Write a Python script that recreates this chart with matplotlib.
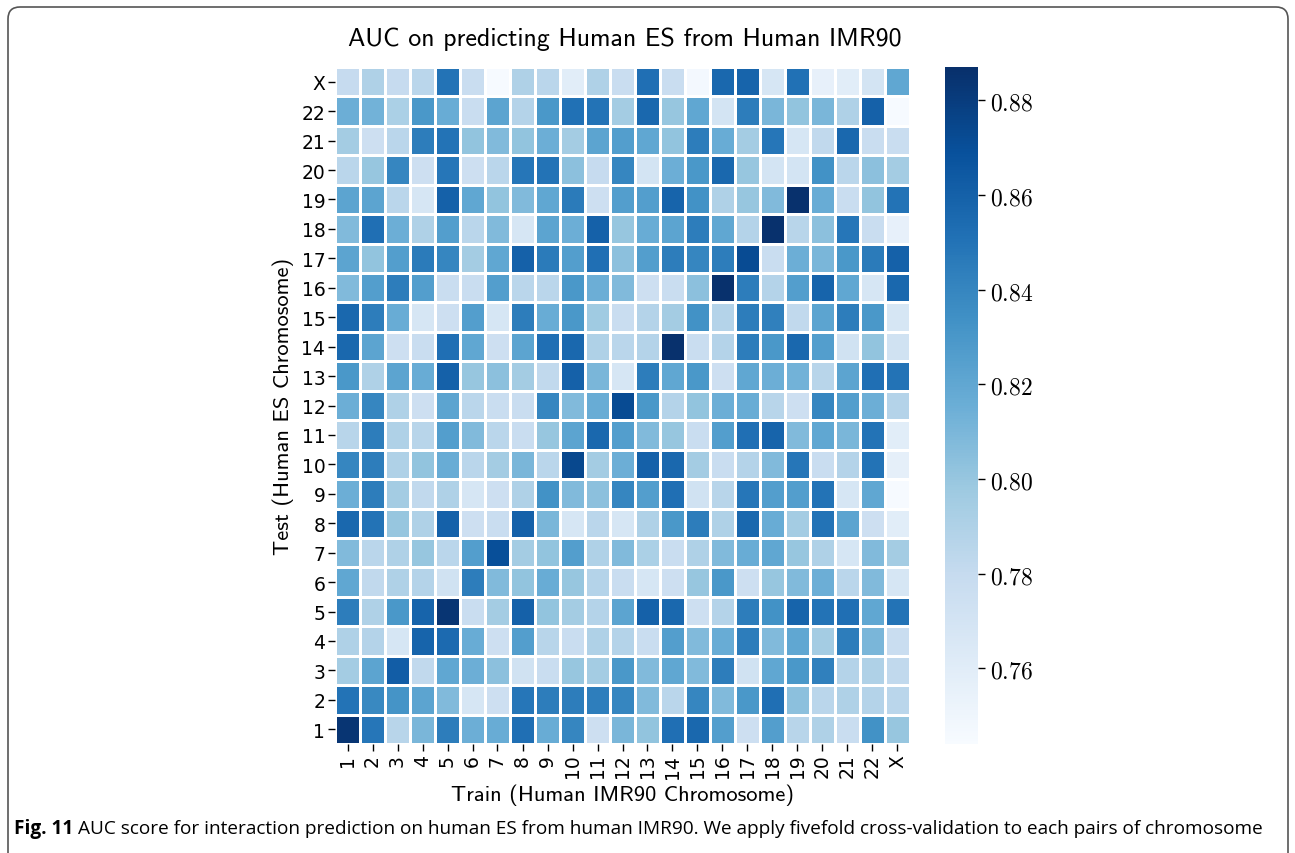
import numpy as np
import matplotlib
matplotlib.use('Agg')
import matplotlib.pyplot as plt
from matplotlib.patches import FancyBboxPatch

plt.rcParams['mathtext.fontset'] = 'cm'

# chromosome labels (train = columns, test = rows)
chroms = [str(i) for i in range(1, 23)] + ['X']

# AUC values, one list per test chromosome (1 ... X), columns = train 1 ... X
row1 = [0.884, 0.848, 0.786, 0.81, 0.845, 0.815, 0.817, 0.852, 0.817, 0.84, 0.775, 0.81, 0.802, 0.852, 0.856, 0.826, 0.775, 0.826, 0.786, 0.79, 0.778, 0.833, 0.80]
row2 = [0.85, 0.838, 0.832, 0.822, 0.808, 0.768, 0.775, 0.848, 0.845, 0.845, 0.844, 0.84, 0.808, 0.785, 0.84, 0.808, 0.83, 0.852, 0.804, 0.785, 0.79, 0.788, 0.785]
row3 = [0.795, 0.822, 0.862, 0.782, 0.82, 0.815, 0.804, 0.772, 0.778, 0.80, 0.795, 0.83, 0.808, 0.82, 0.808, 0.845, 0.772, 0.82, 0.83, 0.843, 0.788, 0.79, 0.782]
row4 = [0.79, 0.788, 0.768, 0.858, 0.855, 0.817, 0.775, 0.826, 0.786, 0.778, 0.79, 0.788, 0.778, 0.826, 0.808, 0.817, 0.845, 0.808, 0.82, 0.795, 0.845, 0.81, 0.778]
row5 = [0.845, 0.79, 0.83, 0.858, 0.884, 0.778, 0.795, 0.86, 0.802, 0.795, 0.788, 0.822, 0.86, 0.856, 0.775, 0.788, 0.845, 0.833, 0.858, 0.85, 0.852, 0.82, 0.85]
row6 = [0.82, 0.782, 0.79, 0.788, 0.772, 0.845, 0.808, 0.802, 0.817, 0.80, 0.788, 0.778, 0.768, 0.775, 0.80, 0.83, 0.775, 0.80, 0.808, 0.815, 0.785, 0.808, 0.768]
row7 = [0.808, 0.785, 0.79, 0.80, 0.785, 0.826, 0.87, 0.795, 0.802, 0.826, 0.79, 0.808, 0.792, 0.778, 0.79, 0.808, 0.817, 0.82, 0.80, 0.79, 0.768, 0.808, 0.795]
row8 = [0.856, 0.85, 0.80, 0.79, 0.86, 0.775, 0.778, 0.86, 0.81, 0.768, 0.785, 0.768, 0.79, 0.83, 0.845, 0.79, 0.856, 0.817, 0.795, 0.85, 0.822, 0.775, 0.76]
row9 = [0.815, 0.845, 0.795, 0.782, 0.79, 0.768, 0.775, 0.79, 0.833, 0.808, 0.804, 0.84, 0.826, 0.852, 0.772, 0.786, 0.848, 0.826, 0.826, 0.85, 0.768, 0.82, 0.745]
row10 = [0.84, 0.845, 0.79, 0.802, 0.817, 0.785, 0.795, 0.81, 0.785, 0.874, 0.795, 0.815, 0.86, 0.856, 0.795, 0.778, 0.788, 0.808, 0.848, 0.778, 0.788, 0.85, 0.757]
row11 = [0.786, 0.845, 0.79, 0.786, 0.826, 0.808, 0.785, 0.778, 0.80, 0.822, 0.856, 0.826, 0.808, 0.80, 0.778, 0.826, 0.852, 0.858, 0.808, 0.82, 0.81, 0.85, 0.76]
row12 = [0.815, 0.84, 0.79, 0.775, 0.822, 0.785, 0.778, 0.778, 0.84, 0.808, 0.817, 0.872, 0.83, 0.788, 0.802, 0.815, 0.817, 0.786, 0.775, 0.84, 0.826, 0.815, 0.788]
row13 = [0.83, 0.79, 0.822, 0.817, 0.86, 0.80, 0.804, 0.795, 0.782, 0.86, 0.81, 0.768, 0.845, 0.82, 0.83, 0.775, 0.82, 0.815, 0.813, 0.786, 0.822, 0.852, 0.85]
row14 = [0.856, 0.822, 0.775, 0.778, 0.852, 0.82, 0.775, 0.822, 0.852, 0.856, 0.79, 0.785, 0.788, 0.886, 0.778, 0.788, 0.845, 0.83, 0.856, 0.826, 0.772, 0.802, 0.772]
row15 = [0.856, 0.845, 0.817, 0.768, 0.775, 0.826, 0.768, 0.845, 0.817, 0.83, 0.797, 0.778, 0.788, 0.795, 0.833, 0.788, 0.845, 0.843, 0.782, 0.822, 0.845, 0.83, 0.768]
row16 = [0.808, 0.826, 0.845, 0.826, 0.778, 0.778, 0.826, 0.785, 0.785, 0.83, 0.815, 0.808, 0.775, 0.778, 0.804, 0.886, 0.845, 0.788, 0.826, 0.858, 0.82, 0.768, 0.856]
row17 = [0.822, 0.802, 0.826, 0.846, 0.84, 0.795, 0.82, 0.86, 0.846, 0.826, 0.852, 0.804, 0.826, 0.845, 0.84, 0.845, 0.872, 0.778, 0.815, 0.81, 0.83, 0.846, 0.86]
row18 = [0.808, 0.852, 0.815, 0.79, 0.826, 0.785, 0.808, 0.768, 0.822, 0.815, 0.86, 0.80, 0.817, 0.822, 0.845, 0.82, 0.788, 0.886, 0.786, 0.804, 0.848, 0.778, 0.756]
row19 = [0.822, 0.822, 0.785, 0.768, 0.86, 0.82, 0.802, 0.808, 0.82, 0.846, 0.775, 0.826, 0.826, 0.858, 0.833, 0.79, 0.80, 0.808, 0.886, 0.817, 0.778, 0.802, 0.85]
row20 = [0.785, 0.80, 0.84, 0.775, 0.848, 0.775, 0.785, 0.848, 0.85, 0.804, 0.78, 0.84, 0.77, 0.815, 0.83, 0.856, 0.80, 0.77, 0.77, 0.833, 0.785, 0.804, 0.795]
row21 = [0.795, 0.775, 0.785, 0.845, 0.85, 0.802, 0.808, 0.802, 0.815, 0.795, 0.822, 0.826, 0.82, 0.802, 0.845, 0.817, 0.795, 0.848, 0.768, 0.782, 0.856, 0.778, 0.778]
row22 = [0.815, 0.813, 0.792, 0.83, 0.817, 0.778, 0.822, 0.788, 0.83, 0.851, 0.85, 0.795, 0.856, 0.80, 0.82, 0.77, 0.845, 0.81, 0.802, 0.81, 0.79, 0.86, 0.745]
rowX = [0.78, 0.79, 0.78, 0.785, 0.85, 0.778, 0.745, 0.79, 0.785, 0.76, 0.79, 0.778, 0.852, 0.778, 0.747, 0.856, 0.858, 0.768, 0.851, 0.756, 0.76, 0.77, 0.82]

auc = np.array([row1, row2, row3, row4, row5, row6, row7, row8, row9, row10,
                row11, row12, row13, row14, row15, row16, row17, row18, row19,
                row20, row21, row22, rowX])

cbar_ticks = [0.76, 0.78, 0.80, 0.82, 0.84, 0.86, 0.88]

W, H = 1295, 854
fig = plt.figure(figsize=(W / 100, H / 100), dpi=100)

# page frame around figure + caption
bg = fig.add_axes([0, 0, 1, 1], zorder=-5)
bg.set_xlim(0, W)
bg.set_ylim(H, 0)
bg.axis('off')
bg.add_patch(FancyBboxPatch((8, 8), 1280, 900, boxstyle='round,pad=0,rounding_size=12',
                            fc='white', ec='#555555', lw=1.2))

ax = fig.add_axes([335 / W, 1 - 745 / H, 575 / W, 677 / H])
mesh = ax.pcolormesh(auc, cmap='Blues', vmin=0.744, vmax=0.887,
                     edgecolors='white', linewidth=0.8)
ax.set_xlim(0, 23)
ax.set_ylim(0, 23)
ax.set_xticks(np.arange(23) + 0.5)
ax.set_xticklabels(chroms, rotation=90, fontsize=13.5, family='DejaVu Sans')
ax.set_yticks(np.arange(23) + 0.5)
ax.set_yticklabels(chroms, fontsize=13.5, family='DejaVu Sans')
ax.tick_params(length=5, width=1, pad=2)
for s in ax.spines.values():
    s.set_visible(False)

ax.set_xlabel('Train (Human IMR90 Chromosome)', fontsize=16.2, family='cmss10', labelpad=4)
ax.set_ylabel('Test (Human ES Chromosome)', fontsize=16.2, family='cmss10', labelpad=5)
fig.text(625 / W, 1 - 39 / H, 'AUC on predicting Human ES from Human IMR90',
         fontsize=18.7, family='cmss10', ha='center', va='center')

cax = fig.add_axes([945 / W, 1 - 745 / H, 33 / W, 677 / H])
cb = fig.colorbar(mesh, cax=cax)
cb.outline.set_visible(False)
cb.set_ticks(cbar_ticks)
cb.set_ticklabels(['$%.2f$' % t for t in cbar_ticks])
cax.tick_params(labelsize=17, length=5, width=1)

# caption: bold figure number, then the text right after it
renderer = fig.canvas.get_renderer()
t1 = fig.text(14 / W, 1 - 829 / H, 'Fig. 11', fontsize=13.7, fontweight='bold',
              family='Open Sans', va='center')
bb = t1.get_window_extent(renderer)
fig.text((bb.x1 + 5) / W, 1 - 829 / H,
         'AUC score for interaction prediction on human ES from human IMR90. '
         'We apply fivefold cross-validation to each pairs of chromosome',
         fontsize=13.7, family='Open Sans', va='center')

fig.savefig('out.png', dpi=100)
